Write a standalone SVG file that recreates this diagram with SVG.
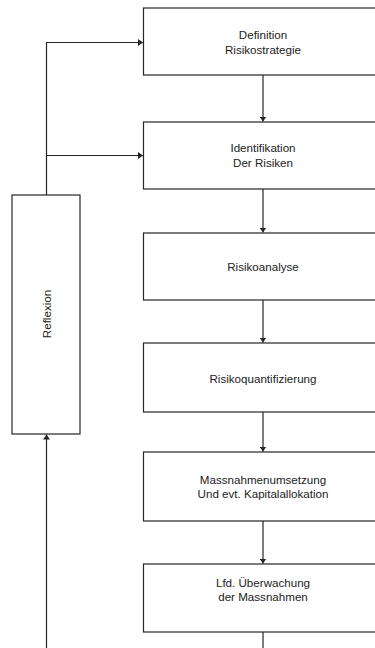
<svg xmlns="http://www.w3.org/2000/svg" width="375" height="648" viewBox="0 0 375 648">
<style>
.box{fill:#fff;stroke:#262626;stroke-width:1.2}
.ln{fill:none;stroke:#262626;stroke-width:1.2}
.t{font-family:"Liberation Sans",Arial,sans-serif;font-size:11.6px;fill:#222;text-anchor:middle}
</style>
<defs>
<marker id="ah" markerWidth="6" markerHeight="7" refX="5" refY="3.5" orient="auto" markerUnits="userSpaceOnUse">
<path d="M0,0 L5,3.5 L0,7 Z" fill="#262626"/>
</marker>
</defs>
<rect width="375" height="648" fill="#fff"/>
<g id="connectors">
<path class="ln" d="M46.5,195 V42.5 H143" marker-end="url(#ah)"/>
<path class="ln" d="M46.5,155.5 H143" marker-end="url(#ah)"/>
<path class="ln" d="M46.5,648 V434.5" marker-end="url(#ah)"/>
<path class="ln" d="M263,75 V121.5" marker-end="url(#ah)"/>
<path class="ln" d="M263,189 V232.5" marker-end="url(#ah)"/>
<path class="ln" d="M263,300 V342.5" marker-end="url(#ah)"/>
<path class="ln" d="M263,412 V451.5" marker-end="url(#ah)"/>
<path class="ln" d="M263,521 V563.5" marker-end="url(#ah)"/>
<path class="ln" d="M263,632 V648"/>
</g>
<g id="n1"><rect class="box" x="143.5" y="8" width="240" height="67"/>
<text class="t" x="263" y="39">Definition</text><text class="t" x="263" y="54">Risikostrategie</text></g>
<g id="n2"><rect class="box" x="143.5" y="122" width="240" height="67"/>
<text class="t" x="263" y="152">Identifikation</text><text class="t" x="263" y="167">Der Risiken</text></g>
<g id="n3"><rect class="box" x="143.5" y="233" width="240" height="67"/>
<text class="t" x="263" y="271">Risikoanalyse</text></g>
<g id="n4"><rect class="box" x="143.5" y="343" width="240" height="69"/>
<text class="t" x="263" y="383">Risikoquantifizierung</text></g>
<g id="n5"><rect class="box" x="143.5" y="452" width="240" height="69"/>
<text class="t" x="263" y="484">Massnahmenumsetzung</text><text class="t" x="263" y="498">Und evt. Kapitalallokation</text></g>
<g id="n6"><rect class="box" x="143.5" y="564" width="240" height="68"/>
<text class="t" x="263" y="587">Lfd. Überwachung</text><text class="t" x="263" y="601">der Massnahmen</text></g>
<g id="reflexion"><rect class="box" x="12" y="195" width="68" height="239"/>
<text class="t" transform="translate(50.5,314) rotate(-90)">Reflexion</text></g>
</svg>
